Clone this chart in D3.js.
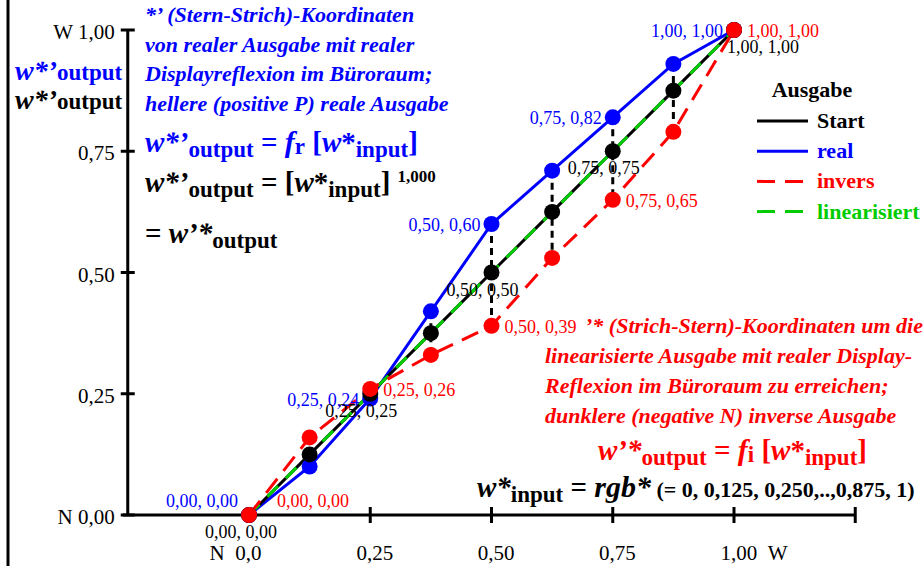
<!DOCTYPE html>
<html>
<head>
<meta charset="utf-8">
<title>Ausgabe</title>
<style>
body{margin:0;background:#fff;}
text{font-family:"Liberation Serif","Times New Roman",serif;}
</style>
</head>
<body>
<script src="https://cdnjs.cloudflare.com/ajax/libs/d3/7.8.5/d3.min.js"></script>
<script>
// Eingabe-Stufen und Ausgabe-Werte
var inputs  = [0, 0.125, 0.25, 0.375, 0.5, 0.625, 0.75, 0.875, 1];
var start   = [0, 0.125, 0.25, 0.375, 0.5, 0.625, 0.75, 0.875, 1];
var real    = [0, 0.10, 0.24, 0.42, 0.60, 0.71, 0.82, 0.93, 1.00];
var invers  = [0, 0.16, 0.26, 0.33, 0.39, 0.53, 0.65, 0.79, 1.00];
var linear  = [0, 1];

var xTicks = [0, 0.25, 0.5, 0.75, 1, 1.25];
var xTickLabels = ["N\u00a0\u00a00,0", "0,25", "0,50", "0,75", "1,00\u00a0\u00a0W", ""];
var yTicks = [0, 0.25, 0.5, 0.75, 1];
var yTickLabels = ["N 0,00", "0,25", "0,50", "0,75", "W 1,00"];

var legendNames = ["Start", "real", "invers", "linearisiert"];
var legendColors = ["#000", "#0000ff", "#ff0000", "#00cc00"];
var legendDash = [null, null, "18,10", "18,10"];

var W = 923, H = 566;
var svg = d3.select('body').append('svg')
	.attr("width", W)
	.attr("height", H);

var x = d3.scaleLinear().domain([0, 1]).range([249, 734]);
var y = d3.scaleLinear().domain([0, 1]).range([515, 30]);

function fmt(v){ return d3.format(".2f")(v).replace(".", ","); }

// Rahmen
svg.append('rect').attr('x', 8).attr('y', -10).attr('width', 1000).attr('height', 600)
	.attr('fill', 'none').attr('stroke', '#000').attr('stroke-width', 3);

// Achsen
var xAxis = d3.axisBottom(x).tickValues(xTicks).tickSize(0).tickFormat(function(d, i){ return xTickLabels[i]; });
var gx = svg.append('g').attr('transform', 'translate(0,' + y(0) + ')').call(xAxis);
gx.attr('font-family', null);
gx.select('.domain').remove();
gx.selectAll('text').attr('dy', 0).attr('y', 45).attr('font-size', 21).attr('fill', '#000')
	.attr('text-anchor', function(d, i){ return i == 0 ? 'end' : (i == 4 ? 'start' : 'middle'); })
	.attr('dx', function(d, i){ return i == 4 ? -14 : (i == 0 ? 12 : 4); });
svg.append('line').attr('x1', x(-0.26)).attr('x2', x(1.25)).attr('y1', y(0)).attr('y2', y(0))
	.attr('stroke', '#000').attr('stroke-width', 3);
svg.selectAll('.xt').data(xTicks).enter().append('line')
	.attr('x1', function(d){ return x(d); }).attr('x2', function(d){ return x(d); })
	.attr('y1', y(0) - 8).attr('y2', y(0) + 8).attr('stroke', '#000').attr('stroke-width', 3);

svg.append('line').attr('x1', x(-0.25)).attr('x2', x(-0.25)).attr('y1', y(1)).attr('y2', y(0))
	.attr('stroke', '#000').attr('stroke-width', 3);
svg.selectAll('.yt').data(yTicks).enter().append('line')
	.attr('x1', x(-0.25) - 7).attr('x2', x(-0.25) + 7)
	.attr('y1', function(d){ return y(d); }).attr('y2', function(d){ return y(d); })
	.attr('stroke', '#000').attr('stroke-width', 3);
svg.selectAll('.yl').data(yTicks).enter().append('text')
	.attr('x', x(-0.25) - 13).attr('y', function(d){ return y(d) + 9; })
	.attr('text-anchor', 'end').attr('font-size', 21)
	.text(function(d, i){ return yTickLabels[i]; });

// Linien
var line = d3.line().x(function(d){ return x(d[0]); }).y(function(d){ return y(d[1]); });
function pts(vals){ return inputs.map(function(v, i){ return [v, vals[i]]; }); }

// senkrechte Verbindungen real -> invers
svg.selectAll('.vl').data(inputs.slice(1, -1)).enter().append('line')
	.attr('x1', function(d){ return x(d); }).attr('x2', function(d){ return x(d); })
	.attr('y1', function(d, i){ return y(real[i + 1]); })
	.attr('y2', function(d, i){ return y(invers[i + 1]); })
	.attr('stroke', '#000').attr('stroke-width', 3).attr('stroke-dasharray', '7,5');

svg.append('path').attr('d', line(pts(real))).attr('fill', 'none').attr('stroke', '#0000ff').attr('stroke-width', 3);
svg.append('path').attr('d', line(pts(start))).attr('fill', 'none').attr('stroke', '#000').attr('stroke-width', 3);
svg.append('path').attr('d', line(linear.map(function(v){ return [v, v]; })))
	.attr('fill', 'none').attr('stroke', '#00cc00').attr('stroke-width', 3).attr('stroke-dasharray', '15,11');
svg.append('path').attr('d', line(pts(invers))).attr('fill', 'none').attr('stroke', '#ff0000')
	.attr('stroke-width', 3).attr('stroke-dasharray', '18,10');

// Punkte
function dots(vals, col){
	svg.append('g').selectAll('circle').data(pts(vals)).enter().append('circle')
		.attr('cx', function(d){ return x(d[0]); }).attr('cy', function(d){ return y(d[1]); })
		.attr('r', 8).attr('fill', col);
}
dots(real, '#0000ff');
dots(start, '#000');
dots(invers, '#ff0000');

// Beschriftungen der Punkte
var lblIdx = [0, 2, 4, 6, 8];
svg.append('g').selectAll('text').data(lblIdx).enter().append('text')
	.attr('x', function(i){ return x(inputs[i]) - 11; })
	.attr('y', function(i){ return y(real[i]) + (i == 0 ? -8 : 7); })
	.attr('text-anchor', 'end').attr('font-size', 18).attr('fill', '#0000ff')
	.text(function(i){ return fmt(inputs[i]) + ", " + fmt(real[i]); });
svg.append('g').selectAll('text').data(lblIdx).enter().append('text')
	.attr('x', function(i){ return x(inputs[i]) + (i == 0 ? 28 : 13); })
	.attr('y', function(i){ return y(invers[i]) + (i == 0 ? -8 : 7); })
	.attr('font-size', 18).attr('fill', '#ff0000')
	.text(function(i){ return fmt(inputs[i]) + ", " + fmt(invers[i]); });
svg.append('g').selectAll('text').data(lblIdx).enter().append('text')
	.attr('x', function(i){ return x(inputs[i]) + (i == 8 ? -7 : (i == 0 ? -44 : -45)); })
	.attr('y', function(i){ return y(start[i]) + 23; })
	.attr('font-size', 18).attr('fill', '#000')
	.text(function(i){ return fmt(inputs[i]) + ", " + fmt(start[i]); });

// Legende
svg.append('text').attr('x', 812).attr('y', 97).attr('text-anchor', 'middle')
	.attr('font-size', 22).attr('font-weight', 'bold').text('Ausgabe');
var lg = svg.append('g').selectAll('g').data(legendNames).enter().append('g')
	.attr('transform', function(d, i){ return 'translate(757,' + (121 + i * 30.2) + ')'; });
lg.append('line').attr('x1', 0).attr('x2', 51).attr('stroke-width', 3)
	.attr('stroke', function(d, i){ return legendColors[i]; })
	.attr('stroke-dasharray', function(d, i){ return legendDash[i]; });
lg.append('text').attr('x', 60).attr('y', 7).attr('font-size', 22).attr('font-weight', 'bold')
	.attr('fill', function(d, i){ return i == 0 ? '#000' : legendColors[i]; })
	.text(function(d){ return d; });

// Texte
function rich(px, py, col, parts){
	var t = svg.append('text').attr('x', px).attr('y', py).attr('fill', col).attr('font-weight', 'bold');
	parts.forEach(function(p){
		var s = t.append('tspan').text(p.t).attr('font-size', p.s || 22);
		if (p.i) s.attr('font-style', 'italic');
		if (p.dy) s.attr('dy', p.dy);
	});
	return t;
}
var blueLines = ["*\u2019 (Stern-Strich)-Koordinaten", "von realer Ausgabe mit realer",
	"Displayreflexion im Büroraum;", "hellere (positive P) reale Ausgabe"];
svg.append('g').selectAll('text').data(blueLines).enter().append('text')
	.attr('x', 145).attr('y', function(d, i){ return 22 + i * 29.5; })
	.attr('font-size', 22).attr('font-weight', 'bold').attr('font-style', 'italic').attr('fill', '#0000ff')
	.text(function(d){ return d; });

var redLines = ["\u2019* (Strich-Stern)-Koordinaten um die", "linearisierte Ausgabe mit realer Display-",
	"Reflexion im Büroraum zu erreichen;", "dunklere (negative N) inverse Ausgabe"];
svg.append('g').selectAll('text').data(redLines).enter().append('text')
	.attr('x', function(d, i){ return i == 0 ? 585 : 545; }).attr('y', function(d, i){ return 333 + i * 30; })
	.attr('font-size', 22).attr('font-weight', 'bold').attr('font-style', 'italic').attr('fill', '#ff0000')
	.text(function(d){ return d; });

rich(15, 80, '#0000ff', [{t: "w*\u2019", s: 28, i: 1}, {t: "output", s: 23}]);
rich(15, 109, '#000', [{t: "w*\u2019", s: 28, i: 1}, {t: "output", s: 23}]);

rich(145, 152, '#0000ff', [{t: "w*\u2019", s: 29, i: 1}, {t: "output", s: 23, dy: 5}, {t: " = ", s: 29, dy: -5},
	{t: "f", s: 30, i: 1}, {t: "r", s: 23, dy: 2}, {t: " [", s: 29, dy: -2}, {t: "w", s: 29, i: 1}, {t: "*", s: 29},
	{t: "input", s: 23, dy: 5}, {t: "]", s: 29, dy: -5}]);
rich(145, 192, '#000', [{t: "w*\u2019", s: 29, i: 1}, {t: "output", s: 23, dy: 5}, {t: " = [", s: 29, dy: -5},
	{t: "w", s: 29, i: 1}, {t: "*", s: 29}, {t: "input", s: 23, dy: 5}, {t: "] ", s: 29, dy: -5},
	{t: "1,000", s: 17, dy: -10}]);
rich(145, 243, '#000', [{t: "= ", s: 29}, {t: "w\u2019*", s: 29, i: 1}, {t: "output", s: 23, dy: 5}]);

rich(598, 460, '#ff0000', [{t: "w\u2019*", s: 29, i: 1}, {t: "output", s: 23, dy: 5}, {t: " = ", s: 29, dy: -5},
	{t: "f", s: 30, i: 1}, {t: "i", s: 23, dy: 2}, {t: " [", s: 29, dy: -2}, {t: "w", s: 29, i: 1}, {t: "*", s: 29},
	{t: "input", s: 23, dy: 5}, {t: "]", s: 29, dy: -5}]);
rich(477, 497, '#000', [{t: "w*", s: 29, i: 1}, {t: "input", s: 23, dy: 5}, {t: " = ", s: 29, dy: -5},
	{t: "rgb*", s: 30, i: 1}, {t: " (= 0, 0,125, 0,250,..,0,875, 1)", s: 22}]);
</script>
</body>
</html>
